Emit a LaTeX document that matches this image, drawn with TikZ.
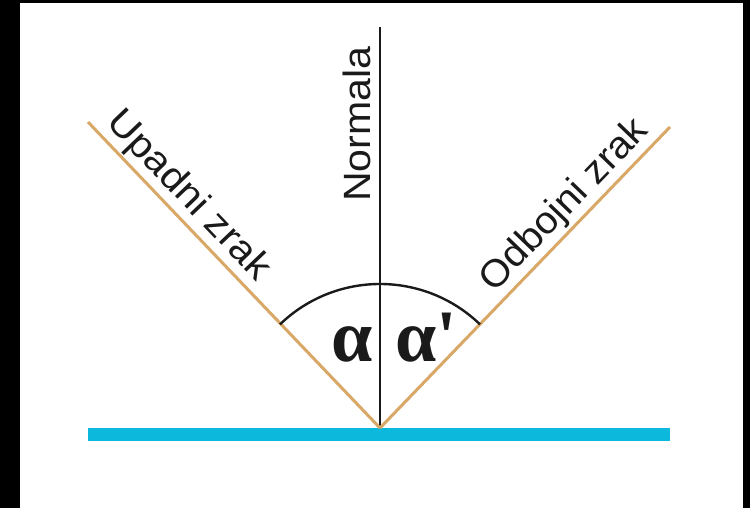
\documentclass[tikz,border=0pt]{standalone}
\usepackage{fontspec}
\usepackage{graphicx}
\setsansfont{Liberation Sans}
\newfontfamily\alphafont[Ligatures=TeXOff]{Liberation Serif}
\usetikzlibrary{positioning,calc}
\definecolor{rink}{HTML}{1A1A1A}
\definecolor{rray}{HTML}{D9A766}
\definecolor{rmirror}{HTML}{0CB9DC}

\begin{document}
\begin{tikzpicture}[x=0.5pt,y=0.5pt,every node/.style={font=\sffamily\fontsize{19}{22}\selectfont,inner sep=1pt,text=rink}]
  \fill[black] (0,0) rectangle (750,508);
  \fill[white] (20,0) rectangle (743,505);
  \useasboundingbox (0,0) rectangle (750,508);

  % points
  \coordinate (O) at (380,80);
  \coordinate (ntop) at (380,481);
  \coordinate (inc) at (88,386);
  \coordinate (refl) at (670,381);
  \coordinate (mleft) at (88,73.5);
  \coordinate (mright) at (670,73.5);

  % mirror
  \draw[rmirror,line width=6.5pt] (mleft) -- (mright);

  % normal
  \draw[rink,line width=0.9pt] (O) -- node[sloped,above=3pt,pos=0.757] (nlabel) {\scalebox{1.08}[1]{Normala}} (ntop);

  % rays
  \draw[rray,line width=1.5pt] (inc) -- node[sloped,above,pos=0.29] (inlabel) {\scalebox{1.08}[1]{Upadni zrak}} (O);
  \draw[rray,line width=1.5pt] (O) -- node[sloped,above,pos=0.69] (outlabel) {\scalebox{1.05}[1]{Odbojni zrak}} (refl);

  % angle
  \draw[rink,line width=1.2pt] ([shift={(46:72pt)}]O) arc[start angle=46,end angle=134,radius=72pt];
  \node[font=\alphafont\bfseries\fontsize{37}{37}\selectfont,anchor=base] (alpha) at (352,146) {α};
  \node[font=\alphafont\bfseries\fontsize{37}{37}\selectfont,anchor=base west] (alphap) at (393,146) {α'};
\end{tikzpicture}
\end{document}
